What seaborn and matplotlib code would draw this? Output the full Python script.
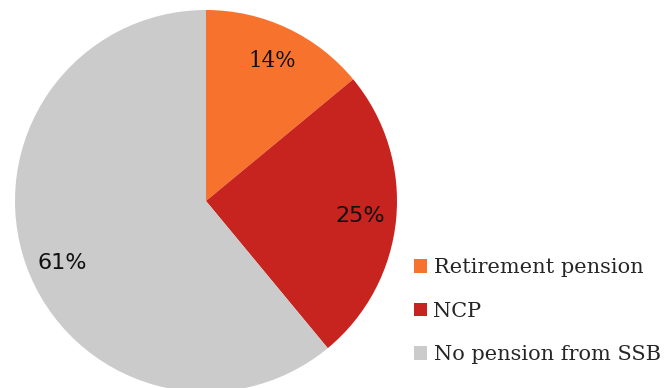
import matplotlib
matplotlib.use("Agg")
import matplotlib.pyplot as plt
from matplotlib.patches import Patch
import seaborn as sns

# Share of older people by pension source
categories = ["Retirement pension", "NCP", "No pension from SSB"]
shares = [14, 25, 61]
colors = ["#F7722D", "#C8241F", "#CBCBCB"]

sns.set_theme(style="white")

W, H = 666, 388
fig = plt.figure(figsize=(W / 100, H / 100), dpi=100)
fig.patch.set_facecolor("white")

# Pie centred at (206, 201) px with radius 191 px
cx, cy, r = 206, 201, 191
ax = fig.add_axes([(cx - r) / W, (H - cy - r) / H, 2 * r / W, 2 * r / H])

wedges, texts, autotexts = ax.pie(
    shares,
    colors=colors,
    startangle=90,
    counterclock=False,
    radius=1,
    autopct="%d%%",
    pctdistance=0.81,
    wedgeprops=dict(linewidth=0),
    textprops=dict(fontsize=16, color="#111111"),
)
autotexts[0].set_family("DejaVu Serif")
autotexts[0].set_fontsize(15.5)
# nudge the large-slice label a little lower
autotexts[2].set_position((-0.755, -0.325))
ax.set_xlim(-1, 1)
ax.set_ylim(-1, 1)
ax.axis("off")

handles = [Patch(facecolor=c, edgecolor="none") for c in colors]
fig.legend(
    handles,
    categories,
    loc="upper left",
    bbox_to_anchor=(406 / W, 1 - 250 / H),
    frameon=False,
    prop=dict(family="DejaVu Serif", size=15),
    handlelength=0.62,
    handleheight=0.62,
    handletextpad=0.3,
    labelspacing=1.17,
    borderaxespad=0,
)

fig.savefig("out.png", dpi=100)
